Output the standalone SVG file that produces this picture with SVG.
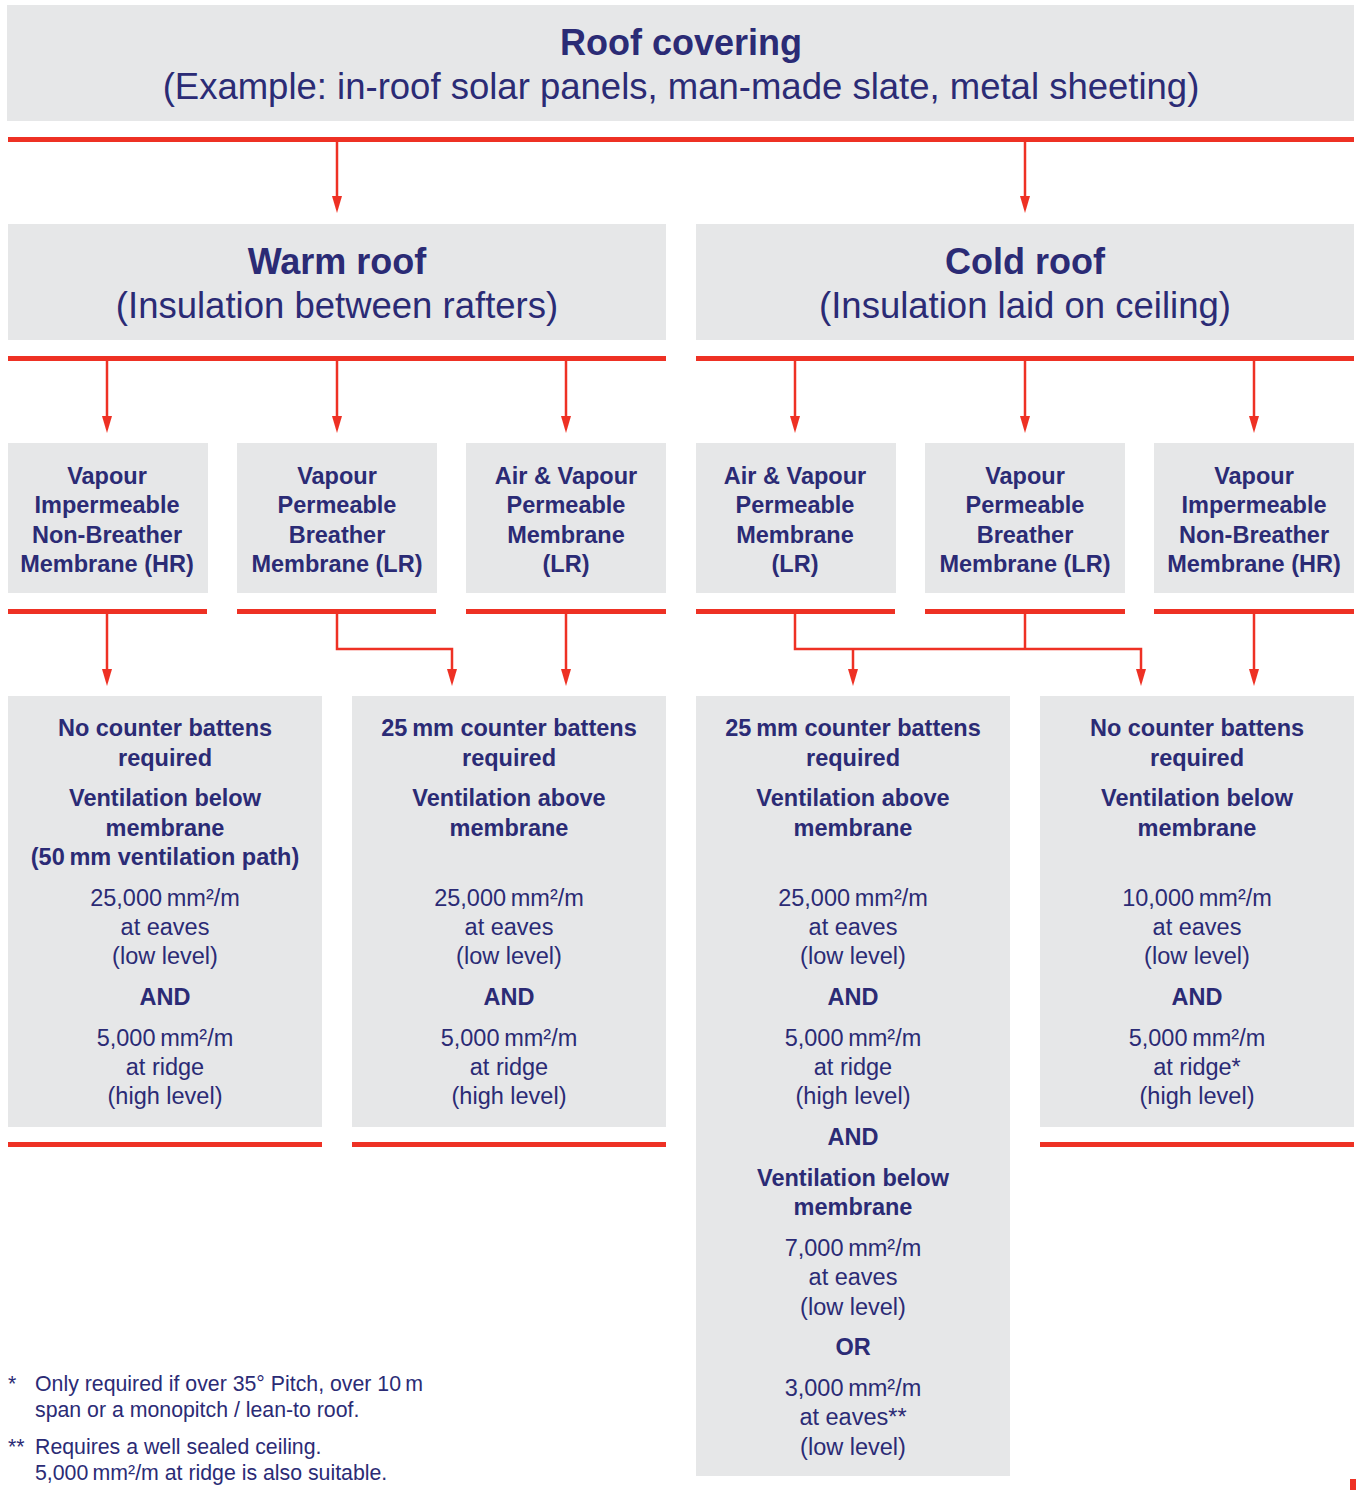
<svg xmlns="http://www.w3.org/2000/svg" width="1356" height="1490" viewBox="0 0 1356 1490">
<defs>
<marker id="ah" viewBox="0 0 17 10" refX="0" refY="5" markerWidth="17" markerHeight="11" markerUnits="userSpaceOnUse" orient="auto"><path d="M0,0 L17,5 L0,10 z" fill="#ee3124"/></marker>
<style>
.box{fill:#e6e7e8}
.bar{fill:#ee3124}
.t{font-family:"Liberation Sans",Arial,Helvetica,sans-serif;fill:#2b2b75;text-anchor:middle}
.h1{font-size:36px;font-weight:bold}
.h2{font-size:36.5px}
.m{font-size:23.5px;font-weight:bold}
.b{font-size:23.5px;font-weight:bold}
.r{font-size:23.5px}
.f{font-family:"Liberation Sans",Arial,Helvetica,sans-serif;fill:#2b2b75;font-size:21.3px}
.c{fill:none;stroke:#ee3124;stroke-width:2.5}
</style>
</defs>
<rect width="1356" height="1490" fill="#ffffff"/>

<g id="roof-covering">
<rect class="box" x="7" y="5" width="1347" height="116"/>
<text class="t h1" x="681" y="55">Roof covering</text>
<text class="t h2" x="681" y="99">(Example: in-roof solar panels, man-made slate, metal sheeting)</text>
</g>

<g id="warm-roof">
<rect class="box" x="8" y="224" width="658" height="116"/>
<text class="t h1" x="337" y="274">Warm roof</text>
<text class="t h2" x="337" y="318">(Insulation between rafters)</text>
</g>

<g id="cold-roof">
<rect class="box" x="696" y="224" width="658" height="116"/>
<text class="t h1" x="1025" y="274">Cold roof</text>
<text class="t h2" x="1025" y="318">(Insulation laid on ceiling)</text>
</g>

<g id="warm-vi">
<rect class="box" x="8" y="443" width="200" height="150"/>
<text class="t m" x="107"><tspan x="107" y="484">Vapour</tspan><tspan x="107" y="513">Impermeable</tspan><tspan x="107" y="543">Non-Breather</tspan><tspan x="107" y="572">Membrane (HR)</tspan></text>
</g>
<g id="warm-vp">
<rect class="box" x="237" y="443" width="200" height="150"/>
<text class="t m" x="337"><tspan x="337" y="484">Vapour</tspan><tspan x="337" y="513">Permeable</tspan><tspan x="337" y="543">Breather</tspan><tspan x="337" y="572">Membrane (LR)</tspan></text>
</g>
<g id="warm-avp">
<rect class="box" x="466" y="443" width="200" height="150"/>
<text class="t m" x="566"><tspan x="566" y="484">Air &amp; Vapour</tspan><tspan x="566" y="513">Permeable</tspan><tspan x="566" y="543">Membrane</tspan><tspan x="566" y="572">(LR)</tspan></text>
</g>
<g id="cold-avp">
<rect class="box" x="696" y="443" width="200" height="150"/>
<text class="t m" x="795"><tspan x="795" y="484">Air &amp; Vapour</tspan><tspan x="795" y="513">Permeable</tspan><tspan x="795" y="543">Membrane</tspan><tspan x="795" y="572">(LR)</tspan></text>
</g>
<g id="cold-vp">
<rect class="box" x="925" y="443" width="200" height="150"/>
<text class="t m" x="1025"><tspan x="1025" y="484">Vapour</tspan><tspan x="1025" y="513">Permeable</tspan><tspan x="1025" y="543">Breather</tspan><tspan x="1025" y="572">Membrane (LR)</tspan></text>
</g>
<g id="cold-vi">
<rect class="box" x="1154" y="443" width="200" height="150"/>
<text class="t m" x="1254"><tspan x="1254" y="484">Vapour</tspan><tspan x="1254" y="513">Impermeable</tspan><tspan x="1254" y="543">Non-Breather</tspan><tspan x="1254" y="572">Membrane (HR)</tspan></text>
</g>

<g id="result-1">
<rect class="box" x="8" y="696" width="314" height="431"/>
<text class="t b"><tspan x="165" y="736">No counter battens</tspan><tspan x="165" y="766">required</tspan><tspan x="165" y="806">Ventilation below</tspan><tspan x="165" y="836">membrane</tspan><tspan x="165" y="865">(50&#8201;mm ventilation path)</tspan></text>
<text class="t r"><tspan x="165" y="906">25,000&#8201;mm²/m</tspan><tspan x="165" y="935">at eaves</tspan><tspan x="165" y="964">(low level)</tspan></text>
<text class="t b" x="165" y="1005">AND</text>
<text class="t r"><tspan x="165" y="1046">5,000&#8201;mm²/m</tspan><tspan x="165" y="1075">at ridge</tspan><tspan x="165" y="1104">(high level)</tspan></text>
</g>

<g id="result-2">
<rect class="box" x="352" y="696" width="314" height="431"/>
<text class="t b"><tspan x="509" y="736">25&#8201;mm counter battens</tspan><tspan x="509" y="766">required</tspan><tspan x="509" y="806">Ventilation above</tspan><tspan x="509" y="836">membrane</tspan></text>
<text class="t r"><tspan x="509" y="906">25,000&#8201;mm²/m</tspan><tspan x="509" y="935">at eaves</tspan><tspan x="509" y="964">(low level)</tspan></text>
<text class="t b" x="509" y="1005">AND</text>
<text class="t r"><tspan x="509" y="1046">5,000&#8201;mm²/m</tspan><tspan x="509" y="1075">at ridge</tspan><tspan x="509" y="1104">(high level)</tspan></text>
</g>

<g id="result-3">
<rect class="box" x="696" y="696" width="314" height="780"/>
<text class="t b"><tspan x="853" y="736">25&#8201;mm counter battens</tspan><tspan x="853" y="766">required</tspan><tspan x="853" y="806">Ventilation above</tspan><tspan x="853" y="836">membrane</tspan></text>
<text class="t r"><tspan x="853" y="906">25,000&#8201;mm²/m</tspan><tspan x="853" y="935">at eaves</tspan><tspan x="853" y="964">(low level)</tspan></text>
<text class="t b" x="853" y="1005">AND</text>
<text class="t r"><tspan x="853" y="1046">5,000&#8201;mm²/m</tspan><tspan x="853" y="1075">at ridge</tspan><tspan x="853" y="1104">(high level)</tspan></text>
<text class="t b"><tspan x="853" y="1145">AND</tspan><tspan x="853" y="1186">Ventilation below</tspan><tspan x="853" y="1215">membrane</tspan></text>
<text class="t r"><tspan x="853" y="1256">7,000&#8201;mm²/m</tspan><tspan x="853" y="1285">at eaves</tspan><tspan x="853" y="1315">(low level)</tspan></text>
<text class="t b" x="853" y="1355">OR</text>
<text class="t r"><tspan x="853" y="1396">3,000&#8201;mm²/m</tspan><tspan x="853" y="1425">at eaves**</tspan><tspan x="853" y="1455">(low level)</tspan></text>
</g>

<g id="result-4">
<rect class="box" x="1040" y="696" width="314" height="431"/>
<text class="t b"><tspan x="1197" y="736">No counter battens</tspan><tspan x="1197" y="766">required</tspan><tspan x="1197" y="806">Ventilation below</tspan><tspan x="1197" y="836">membrane</tspan></text>
<text class="t r"><tspan x="1197" y="906">10,000&#8201;mm²/m</tspan><tspan x="1197" y="935">at eaves</tspan><tspan x="1197" y="964">(low level)</tspan></text>
<text class="t b" x="1197" y="1005">AND</text>
<text class="t r"><tspan x="1197" y="1046">5,000&#8201;mm²/m</tspan><tspan x="1197" y="1075">at ridge*</tspan><tspan x="1197" y="1104">(high level)</tspan></text>
</g>

<g id="connectors">
<rect class="bar" x="8" y="137" width="1346" height="5"/>
<rect class="bar" x="8" y="356" width="658" height="5"/>
<rect class="bar" x="696" y="356" width="658" height="5"/>
<rect class="bar" x="8" y="609" width="199" height="5"/>
<rect class="bar" x="237" y="609" width="199" height="5"/>
<rect class="bar" x="466" y="609" width="200" height="5"/>
<rect class="bar" x="696" y="609" width="199" height="5"/>
<rect class="bar" x="925" y="609" width="200" height="5"/>
<rect class="bar" x="1154" y="609" width="200" height="5"/>
<rect class="bar" x="8" y="1142" width="314" height="5"/>
<rect class="bar" x="352" y="1142" width="314" height="5"/>
<rect class="bar" x="1040" y="1142" width="314" height="5"/>
<path class="c" d="M337,142 V196" marker-end="url(#ah)"/>
<path class="c" d="M1025,142 V196" marker-end="url(#ah)"/>
<path class="c" d="M107,361 V416" marker-end="url(#ah)"/>
<path class="c" d="M337,361 V416" marker-end="url(#ah)"/>
<path class="c" d="M566,361 V416" marker-end="url(#ah)"/>
<path class="c" d="M795,361 V416" marker-end="url(#ah)"/>
<path class="c" d="M1025,361 V416" marker-end="url(#ah)"/>
<path class="c" d="M1254,361 V416" marker-end="url(#ah)"/>
<path class="c" d="M107,614 V669" marker-end="url(#ah)"/>
<path class="c" d="M337,614 V649 H452 V669" marker-end="url(#ah)"/>
<path class="c" d="M566,614 V669" marker-end="url(#ah)"/>
<path class="c" d="M795,614 V649 H1141 V669" marker-end="url(#ah)"/>
<path class="c" d="M853,649 V669" marker-end="url(#ah)"/>
<path class="c" d="M1025,614 V649"/>
<path class="c" d="M1254,614 V669" marker-end="url(#ah)"/>
</g>

<g id="footnotes">
<text class="f" x="8" y="1391">*</text>
<text class="f" x="35" y="1391">Only required if over 35° Pitch, over 10&#8201;m</text>
<text class="f" x="35" y="1417">span or a monopitch / lean-to roof.</text>
<text class="f" x="8" y="1454">**</text>
<text class="f" x="35" y="1454">Requires a well sealed ceiling.</text>
<text class="f" x="35" y="1480">5,000&#8201;mm²/m at ridge is also suitable.</text>
</g>
<rect class="bar" x="1350" y="1479" width="6" height="11"/>
</svg>
